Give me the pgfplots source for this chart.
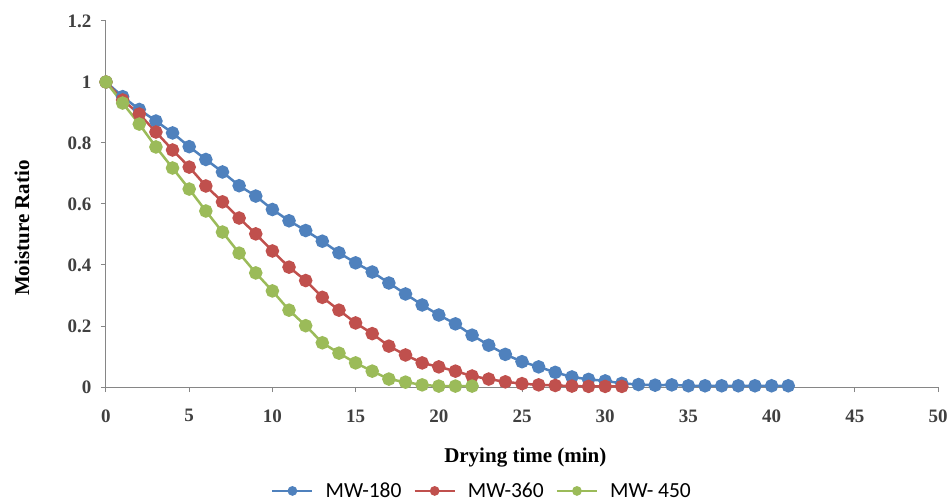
\documentclass[border=0pt]{standalone}
\usepackage{fontspec}
\setmainfont{Liberation Serif}
\newfontfamily\legfont{Carlito}
\usepackage{pgfplots}
\pgfplotsset{compat=1.18}
\definecolor{cblue}{HTML}{4F81BD}
\definecolor{cred}{HTML}{C0504D}
\definecolor{cgreen}{HTML}{9BBB59}
\definecolor{axgray}{HTML}{868686}
\definecolor{tickgray}{HTML}{404040}
\begin{document}
\begin{tikzpicture}
\useasboundingbox (0,0) rectangle (951pt,501pt);
\begin{axis}[
  at={(106pt,114pt)}, anchor=south west,
  scale only axis, width=832pt, height=366pt,
  xmin=0, xmax=50, ymin=0, ymax=1.2,
  xtick={0,5,...,50}, ytick={0,0.2,...,1.2},
  yticklabels={0,0.2,0.4,0.6,0.8,1,1.2},
  axis lines=left,
  axis line style={axgray, line width=1pt, -},
  tick style={axgray, line width=1pt},
  tick align=outside,
  major tick length=5pt,
  /pgf/number format/assume math mode=true,
  ticklabel style={font=\fontsize{19}{21}\selectfont\bfseries, text=tickgray},
  yticklabel style={xshift=-6pt},
  xticklabel style={yshift=-14pt},
  xlabel={Drying time (min)},
  ylabel={Moisture Ratio},
  label style={font=\fontsize{21}{24}\selectfont\bfseries},
  xlabel style={at={(axis description cs:0.504,-0.194)}, anchor=center},
  ylabel style={at={(axis description cs:-0.101,0.434)}, anchor=center},
  every axis plot/.append style={line width=2.5pt, mark=*, mark size=5.5pt},
  legend columns=3,
  legend style={at={(axis description cs:0.452,-0.284)}, anchor=center, draw=none,
    font=\fontsize{21.5}{23}\selectfont\legfont, column sep=10pt},
  legend image code/.code={\draw[mark repeat=2,mark phase=2, line width=2.4pt, mark size=3.6pt] plot coordinates {(0pt,0pt) (20pt,0pt) (40pt,0pt)};},
  clip=false,
]
\addplot[cblue] coordinates {
(0,1) (1,0.952) (2,0.910) (3,0.872) (4,0.833) (5,0.788) (6,0.746) (7,0.705) (8,0.660) (9,0.626)
(10,0.582) (11,0.545) (12,0.513) (13,0.478) (14,0.440) (15,0.407) (16,0.377) (17,0.341) (18,0.305)
(19,0.269) (20,0.236) (21,0.207) (22,0.170) (23,0.137) (24,0.107) (25,0.083) (26,0.066) (27,0.048)
(28,0.033) (29,0.025) (30,0.020) (31,0.012) (32,0.008) (33,0.006) (34,0.007) (35,0.004) (36,0.004)
(37,0.004) (38,0.004) (39,0.004) (40,0.004) (41,0.004)};
\addlegendentry{MW-180}
\addplot[cred] coordinates {
(0,1) (1,0.941) (2,0.895) (3,0.836) (4,0.777) (5,0.721) (6,0.659) (7,0.607) (8,0.554) (9,0.502)
(10,0.446) (11,0.393) (12,0.349) (13,0.294) (14,0.252) (15,0.210) (16,0.175) (17,0.134) (18,0.105)
(19,0.079) (20,0.066) (21,0.052) (22,0.036) (23,0.026) (24,0.017) (25,0.011) (26,0.007) (27,0.005)
(28,0.003) (29,0.002) (30,0.002) (31,0.002)};
\addlegendentry{MW-360}
\addplot[cgreen] coordinates {
(0,1) (1,0.931) (2,0.862) (3,0.787) (4,0.718) (5,0.649) (6,0.577) (7,0.508) (8,0.439) (9,0.374)
(10,0.315) (11,0.252) (12,0.201) (13,0.145) (14,0.111) (15,0.079) (16,0.052) (17,0.026) (18,0.016)
(19,0.007) (20,0.003) (21,0.003) (22,0.003)};
\addlegendentry{MW- 450}
\end{axis}
\end{tikzpicture}
\end{document}
